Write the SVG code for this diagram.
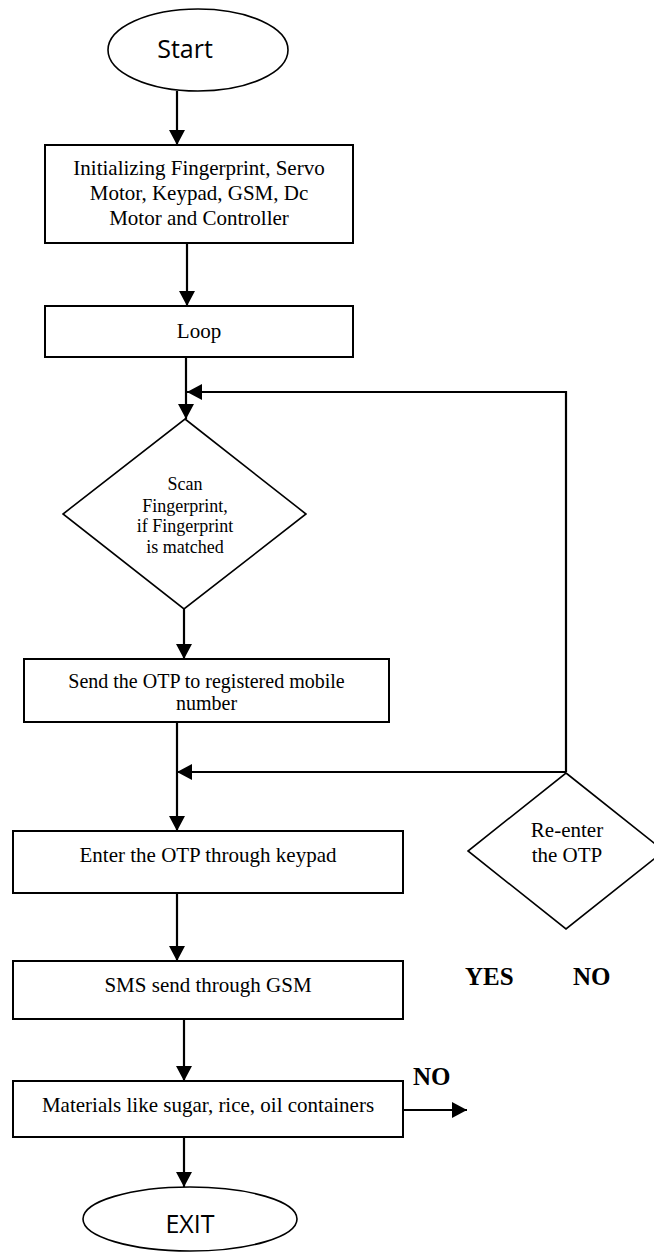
<svg xmlns="http://www.w3.org/2000/svg" width="654" height="1252" viewBox="0 0 654 1252">
  <style>
    .box { fill: #ffffff; stroke: #000000; stroke-width: 2; }
    .dia { fill: #ffffff; stroke: #000000; stroke-width: 1.6; }
    .term { fill: #ffffff; stroke: #000000; stroke-width: 1.6; }
    .conn { fill: none; stroke: #000000; stroke-width: 2.2; }
    .t { font-family: "Liberation Serif", "Times New Roman", serif; font-size: 21px; fill: #000000; text-anchor: middle; }
    .ts { font-family: "Liberation Serif", "Times New Roman", serif; font-size: 18px; fill: #000000; text-anchor: middle; }
    .sans { font-family: "Open Sans", "Liberation Sans", sans-serif; font-size: 25px; fill: #000000; text-anchor: middle; }
    .lbl { font-family: "Liberation Serif", "Times New Roman", serif; font-size: 25px; font-weight: bold; fill: #000000; }
  </style>
  <defs>
    <marker id="arrow" markerUnits="userSpaceOnUse" markerWidth="15" markerHeight="16" refX="15" refY="8" orient="auto">
      <path d="M0,0 L15,8 L0,16 Z" fill="#000000"/>
    </marker>
  </defs>

  <g id="connectors">
    <line class="conn" x1="177" y1="91" x2="177" y2="145" marker-end="url(#arrow)"/>
    <line class="conn" x1="187" y1="243" x2="187" y2="306" marker-end="url(#arrow)"/>
    <line class="conn" x1="186" y1="357" x2="186" y2="419" marker-end="url(#arrow)"/>
    <polyline class="conn" points="566,772 566,392 187,392" marker-end="url(#arrow)"/>
    <line class="conn" x1="184" y1="609" x2="184" y2="659" marker-end="url(#arrow)"/>
    <line class="conn" x1="177" y1="722" x2="177" y2="831" marker-end="url(#arrow)"/>
    <line class="conn" x1="566" y1="772" x2="177" y2="772" marker-end="url(#arrow)"/>
    <line class="conn" x1="177" y1="893" x2="177" y2="961" marker-end="url(#arrow)"/>
    <line class="conn" x1="184" y1="1019" x2="184" y2="1081" marker-end="url(#arrow)"/>
    <line class="conn" x1="184" y1="1137" x2="184" y2="1187" marker-end="url(#arrow)"/>
    <line class="conn" x1="403" y1="1110" x2="467" y2="1110" marker-end="url(#arrow)"/>
  </g>

  <g id="start">
    <ellipse class="term" cx="198" cy="50" rx="90" ry="41"/>
    <text class="sans" x="185" y="58">Start</text>
  </g>

  <g id="init">
    <rect class="box" x="45" y="145" width="308" height="98"/>
    <text class="t" x="199" y="175">Initializing Fingerprint, Servo</text>
    <text class="t" x="199" y="200">Motor, Keypad, GSM, Dc</text>
    <text class="t" x="199" y="225">Motor and Controller</text>
  </g>

  <g id="loop">
    <rect class="box" x="45" y="306" width="308" height="51"/>
    <text class="t" x="199" y="338">Loop</text>
  </g>

  <g id="scan">
    <polygon class="dia" points="185,419 306,514 184,609 63,514"/>
    <text class="ts" x="185" y="490">Scan</text>
    <text class="ts" x="185" y="512">Fingerprint,</text>
    <text class="ts" x="185" y="532">if Fingerprint</text>
    <text class="ts" x="185" y="553">is matched</text>
  </g>

  <g id="send">
    <rect class="box" x="24" y="659" width="365" height="63"/>
    <text class="t" x="206.5" y="688" style="font-size:20px">Send the OTP to registered mobile</text>
    <text class="t" x="206.5" y="710" style="font-size:20px">number</text>
  </g>

  <g id="reenter">
    <polygon class="dia" points="566,773 664,851 566,929 468,851"/>
    <text class="t" x="567" y="837">Re-enter</text>
    <text class="t" x="567" y="862">the OTP</text>
  </g>

  <g id="enter">
    <rect class="box" x="13" y="831" width="390" height="62"/>
    <text class="t" x="208" y="862">Enter the OTP through keypad</text>
  </g>

  <g id="sms">
    <rect class="box" x="13" y="961" width="390" height="58"/>
    <text class="t" x="208" y="992">SMS send through GSM</text>
  </g>

  <g id="materials">
    <rect class="box" x="13" y="1081" width="390" height="56"/>
    <text class="t" x="208" y="1112">Materials like sugar, rice, oil containers</text>
  </g>

  <g id="exit">
    <ellipse class="term" cx="190" cy="1219" rx="107" ry="32"/>
    <text class="sans" x="190" y="1233">EXIT</text>
  </g>

  <g id="labels">
    <text class="lbl" x="465" y="985">YES</text>
    <text class="lbl" x="573" y="985">NO</text>
    <text class="lbl" x="413" y="1085">NO</text>
  </g>
</svg>
